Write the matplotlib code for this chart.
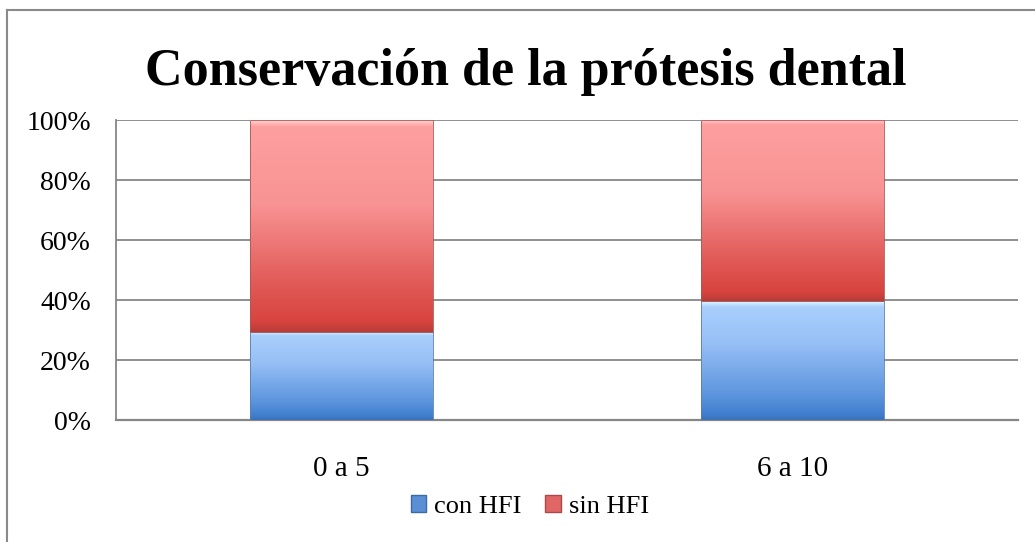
import numpy as np
import matplotlib
matplotlib.use('Agg')
import matplotlib.pyplot as plt
from matplotlib.colors import to_rgb
from matplotlib.patches import Patch
from matplotlib.lines import Line2D

plt.rcParams['font.family'] = 'Liberation Serif'

# datos
categorias = ['0 a 5', '6 a 10']
con_hfi = [29.4, 39.6]
sin_hfi = [70.6, 60.4]
series = ['con HFI', 'sin HFI']
yticks = [0, 20, 40, 60, 80, 100]

# degradados estilo Excel (de arriba hacia abajo)
stops_azul = [(0.0, '#e2f6ff'), (0.05, '#a9cffc'), (0.35, '#97c0f6'),
              (0.8, '#5b94dd'), (0.96, '#3f7dcc'), (1.0, '#3a70b8')]
stops_rojo = [(0.0, '#ffd2d2'), (0.03, '#fe9f9f'), (0.4, '#f89393'),
              (0.78, '#e05956'), (0.95, '#d8443f'), (1.0, '#b83c38')]


def gradiente(stops, n=400):
    pos = [s[0] for s in stops]
    cols = np.array([to_rgb(s[1]) for s in stops])
    t = np.linspace(0, 1, n)
    rgb = np.stack([np.interp(t, pos, cols[:, k]) for k in range(3)], axis=-1)
    return rgb[:, None, :]


def pintar(ax, barras, stops):
    img = gradiente(stops)
    for p in barras.patches:
        x0, y0, w, h = p.get_x(), p.get_y(), p.get_width(), p.get_height()
        im = ax.imshow(img, extent=[x0, x0 + w, y0, y0 + h], aspect='auto',
                       origin='upper', zorder=3, interpolation='bilinear')
        im.set_clip_path(p)


fig = plt.figure(figsize=(10.35, 5.42), dpi=100)
ax = fig.add_axes([0.112, 0.225, 0.8716, 0.5535])

x = np.arange(len(categorias))
b1 = ax.bar(x, con_hfi, width=0.405, color='none', edgecolor='#5a7ea8',
            linewidth=0.6, zorder=4)
b2 = ax.bar(x, sin_hfi, bottom=con_hfi, width=0.405, color='none',
            edgecolor='#a85856', linewidth=0.6, zorder=4)
pintar(ax, b1, stops_azul)
pintar(ax, b2, stops_rojo)

ax.set_xlim(-0.5, 1.5)
ax.set_ylim(0, 100)
ax.set_yticks(yticks)
ax.set_yticklabels([f'{v}%' for v in yticks])
ax.set_xticks(x)
ax.set_xticklabels(categorias)
ax.tick_params(axis='both', length=0, colors='black')
ax.tick_params(axis='y', pad=18, labelsize=20)
ax.tick_params(axis='x', pad=26, labelsize=21)
ax.yaxis.grid(True, color='#878787', linewidth=1.3, zorder=0)
ax.set_axisbelow(True)
for s in ['top', 'right']:
    ax.spines[s].set_visible(False)
ax.spines['left'].set_color('#878787')
ax.spines['left'].set_linewidth(1.3)
ax.spines['bottom'].set_color('#878787')
ax.spines['bottom'].set_linewidth(1.6)

fig.text(0.508, 0.868, 'Conservación de la prótesis dental',
         ha='center', va='center', fontsize=37.5, fontweight='bold')

handles = [Patch(facecolor='#5a8fd6', edgecolor='#3a6aa8'),
           Patch(facecolor='#e06664', edgecolor='#a84a48')]
fig.legend(handles, series, loc='center', bbox_to_anchor=(0.512, 0.066),
           ncol=2, frameon=False, fontsize=19, handlelength=0.6,
           handleheight=0.6, handletextpad=0.3, columnspacing=0.9)

# borde del gráfico (solo izquierdo y superior visibles)
fig.add_artist(Line2D([7 / 1035, 7 / 1035], [0, 1 - 10 / 542],
                      transform=fig.transFigure, color='#8a8a8a', lw=1.5))
fig.add_artist(Line2D([7 / 1035, 1], [1 - 10 / 542, 1 - 10 / 542],
                      transform=fig.transFigure, color='#8a8a8a', lw=1.5))

fig.savefig('out.png', dpi=100)
